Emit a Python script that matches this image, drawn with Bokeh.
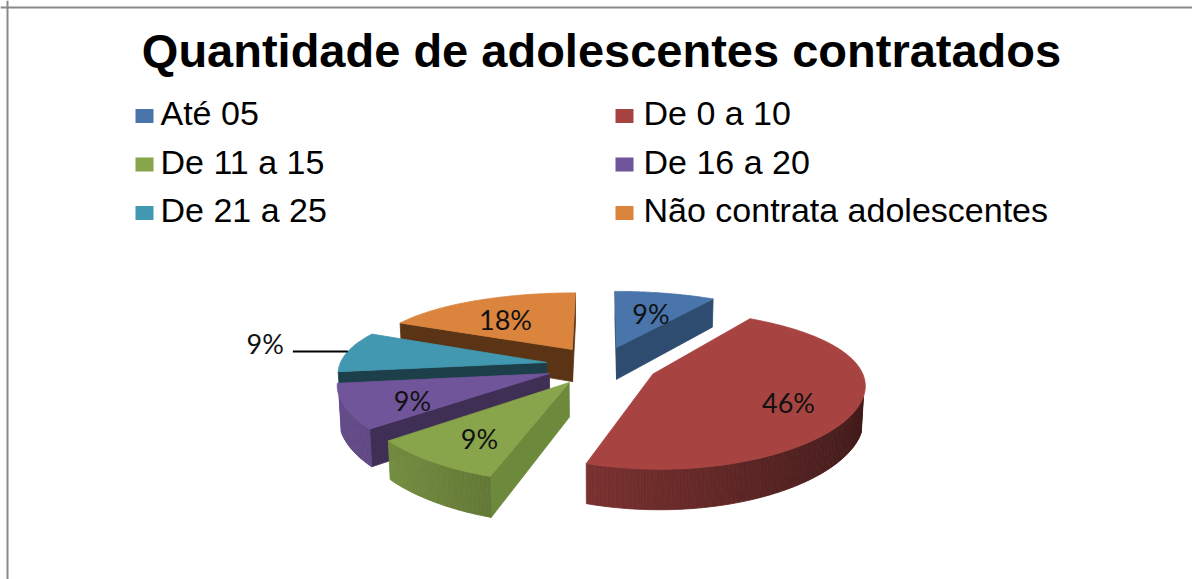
import numpy as np
from bokeh.plotting import figure
from bokeh.models import Range1d, Span
from bokeh.core.properties import value
from bokeh.embed import file_html
from bokeh.resources import INLINE

# ---------------- data ----------------
title = "Quantidade de adolescentes contratados"
categories = ["Até 05", "De 0 a 10", "De 11 a 15", "De 16 a 20",
              "De 21 a 25", "Não contrata adolescentes"]
percent = [9, 46, 9, 9, 9, 18]
labels = [f"{v}%" for v in percent]

# ---------------- styles ----------------
top_colors = ["#4A75AB", "#A74442", "#88A54B", "#70559A", "#4298B0", "#DB843E"]
cut_colors = ["#2E4B70", "#5A2222", "#6D8A3C", "#3F2F54", "#1C3F4A", "#5A3415"]
label_outside = [False, False, False, False, True, False]

W, H = 1192, 579
p = figure(width=W, height=H, x_range=Range1d(0, W), y_range=Range1d(H, 0),
           output_backend="svg", toolbar_location=None, min_border=0,
           x_axis_location=None, y_axis_location=None)
p.grid.visible = False
p.outline_line_color = None
p.background_fill_color = "white"
p.border_fill_color = "white"

p.add_layout(Span(location=7, dimension="height", line_color="#8A8A8A", line_width=2))
p.add_layout(Span(location=7, dimension="width", line_color="#8A8A8A", line_width=2))

# ---------------- 3D pie geometry ----------------
cx, cy = 601.0, 365.0
R = 207.0
thick = 36.0
sphi = 0.353
cphi = np.sqrt(1 - sphi ** 2)
D = 1008.0      # perspective distance (vertical)
Dx = 1600.0     # perspective distance (horizontal)
explode = 56.0
cam = np.array([0.0, D * sphi, -D * cphi])


def project(X, Y, Z):
    X = np.asarray(X, float); Y = np.asarray(Y, float); Z = np.asarray(Z, float)
    v = Y * cphi + Z * sphi
    w = Z * cphi - Y * sphi
    s = D / (D + w)
    sx = Dx / (Dx + w)
    return cx + X * sx, cy - v * s


def visible(normal, point):
    return float(np.dot(normal, cam - np.asarray(point))) > 0


def shade(hexcol, f):
    h = hexcol.lstrip("#")
    r, g, b = (int(h[i:i + 2], 16) for i in (0, 2, 4))
    return "#%02X%02X%02X" % tuple(int(max(0, min(255, c * f))) for c in (r, g, b))


total = float(sum(percent))
ends = np.cumsum(percent) / total * 2 * np.pi
starts = np.concatenate([[0.0], ends[:-1]])
mids = (starts + ends) / 2
offx = explode * np.sin(mids)
offz = explode * np.cos(mids)

order = np.argsort(-np.cos(mids))  # farthest first

xs, ys, fills = [], [], []
for i in order:
    a1, a2 = starts[i], ends[i]
    ox, oz = offx[i], offz[i]
    n = max(10, int(np.degrees(a2 - a1) * 1.5))
    th = np.linspace(a1, a2, n)
    rx = ox + R * np.sin(th)
    rz = oz + R * np.cos(th)

    # cut faces
    for ang, nrm in ((a1, np.array([-np.cos(a1), 0, np.sin(a1)])),
                     (a2, np.array([np.cos(a2), 0, -np.sin(a2)]))):
        ex, ez = ox + R * np.sin(ang), oz + R * np.cos(ang)
        mp = [(ox + ex) / 2, -thick / 2, (oz + ez) / 2]
        if visible(nrm, mp):
            qx, qy = project([ox, ex, ex, ox], [0, 0, -thick, -thick], [oz, ez, ez, oz])
            xs.append(list(qx)); ys.append(list(qy)); fills.append(cut_colors[i])

    # outer wall
    for j in range(n - 1):
        tm = (th[j] + th[j + 1]) / 2
        nrm = np.array([np.sin(tm), 0, np.cos(tm)])
        mp = [ox + R * np.sin(tm), -thick / 2, oz + R * np.cos(tm)]
        if visible(nrm, mp):
            qx, qy = project([rx[j], rx[j + 1], rx[j + 1], rx[j]],
                             [0, 0, -thick, -thick],
                             [rz[j], rz[j + 1], rz[j + 1], rz[j]])
            f = 0.647 - 0.267 * np.sin(tm)
            xs.append(list(qx)); ys.append(list(qy)); fills.append(shade(top_colors[i], f))

    # top face
    tx, ty = project(np.concatenate([[ox], rx]), np.zeros(n + 1), np.concatenate([[oz], rz]))
    xs.append(list(tx)); ys.append(list(ty)); fills.append(top_colors[i])

p.patches(xs, ys, fill_color=fills, line_color=fills, line_width=0.8)

# ---------------- data labels ----------------
lab_x, lab_y, lab_t = [], [], []
out_x, out_y, out_t = [], [], []
for i in range(len(percent)):
    if label_outside[i]:
        ex, ey = project(offx[i] + R * np.sin(mids[i]), 0.0, offz[i] + R * np.cos(mids[i]))
        ex, ey = float(ex), float(ey)
        p.line([ex - 55, ex], [ey, ey], line_color="black", line_width=2)
        out_x.append(ex - 64); out_y.append(ey - 8); out_t.append(labels[i])
    else:
        fr = 0.68
        lx, ly = project(offx[i] + fr * R * np.sin(mids[i]), -0.15 * thick,
                         offz[i] + fr * R * np.cos(mids[i]))
        lab_x.append(float(lx)); lab_y.append(float(ly)); lab_t.append(labels[i])

p.text(lab_x, lab_y, text=lab_t, text_font=value("Lato"), text_font_size="27px",
       text_color="#111111", text_align="center", text_baseline="middle")
p.text(out_x, out_y, text=out_t, text_font=value("Lato"), text_font_size="27px",
       text_color="#111111", text_align="right", text_baseline="middle")

# ---------------- title ----------------
p.text([601], [50], text=[title], text_font=value("Liberation Sans"), text_font_size="47px",
       text_font_style="bold", text_color="black", text_align="center",
       text_baseline="middle")

# ---------------- legend ----------------
col_sw = [144, 624]
col_tx = [160, 643]
sw_x, sw_y, tx_x, tx_y = [], [], [], []
for k, c in enumerate(categories):
    col, row = k % 2, k // 2
    sw_x.append(col_sw[col]); sw_y.append(115.5 + 48.5 * row)
    tx_x.append(col_tx[col]); tx_y.append(112.5 + 48.5 * row)
p.rect(sw_x, sw_y, width=18, height=14, fill_color=top_colors, line_color=None)
p.text(tx_x, tx_y, text=categories, text_font=value("Liberation Sans"), text_font_size="34px",
       text_color="black", text_align="left", text_baseline="middle")

open("out.html", "w").write(file_html(p, INLINE))
